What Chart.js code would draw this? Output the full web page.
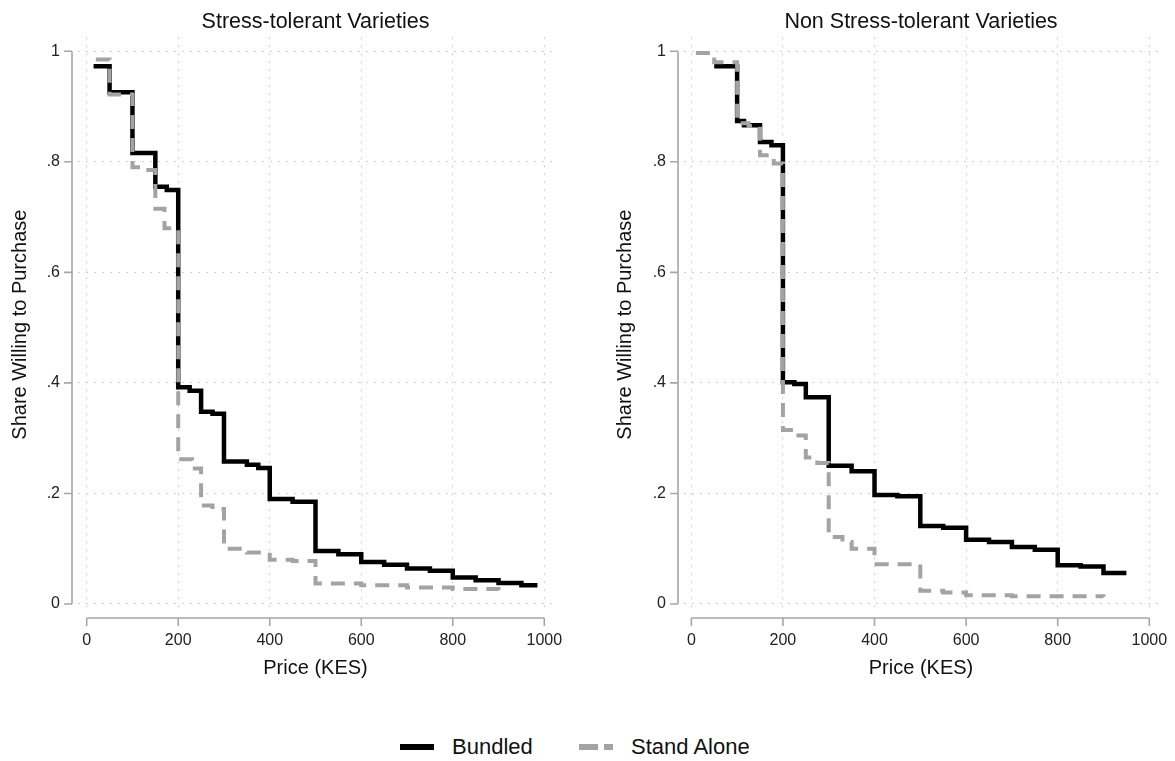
<!DOCTYPE html>
<html>
<head>
<meta charset="utf-8">
<script src="https://cdn.jsdelivr.net/npm/chart.js@4.4.1/dist/chart.umd.min.js"></script>
<style>
  html, body { margin: 0; padding: 0; background: #fff; }
  body { width: 1175px; height: 761px; position: relative; overflow: hidden;
         font-family: "Liberation Sans", Arial, sans-serif; color: #111; }
  canvas { position: absolute; top: 0; }
  #stChart { left: 0; }
  #nsChart { left: 600px; }
  .legend { position: absolute; top: 733px; height: 28px; display: flex; align-items: center; font-size: 22px; }
  .legend__text { margin-left: 18px; }
</style>
</head>
<body>
<canvas id="stChart" width="575" height="700"></canvas>
<canvas id="nsChart" width="575" height="700"></canvas>

<div class="legend" style="left:400px">
  <svg width="34" height="10"><line x1="0" y1="5" x2="34" y2="5" stroke="#000" stroke-width="6"/></svg>
  <span class="legend__text">Bundled</span>
</div>
<div class="legend" style="left:579px">
  <svg width="34" height="10"><line x1="0" y1="5" x2="34" y2="5" stroke="#a3a3a3" stroke-width="6" stroke-dasharray="19 6"/></svg>
  <span class="legend__text">Stand Alone</span>
</div>

<script>
/* =========================
   Data
========================= */
const xTicks = [0, 200, 400, 600, 800, 1000];
const yTicks = [0, 0.2, 0.4, 0.6, 0.8, 1];

// Stress-tolerant
const stPriceBundled = [15, 50, 100, 150, 175, 200, 225, 250, 275, 300, 350, 375, 400, 450, 500, 550, 600, 650, 700, 750, 800, 850, 900, 950, 985];
const stShareBundled = [0.973, 0.926, 0.816, 0.755, 0.749, 0.392, 0.386, 0.348, 0.344, 0.258, 0.252, 0.246, 0.190, 0.185, 0.096, 0.090, 0.076, 0.071, 0.064, 0.060, 0.048, 0.043, 0.038, 0.034, 0.034];
const stPriceAlone = [20, 50, 100, 125, 150, 170, 200, 230, 250, 275, 300, 350, 400, 450, 500, 600, 700, 800, 900];
const stShareAlone = [0.985, 0.922, 0.790, 0.785, 0.715, 0.680, 0.262, 0.245, 0.178, 0.172, 0.100, 0.093, 0.080, 0.078, 0.037, 0.034, 0.030, 0.027, 0.025];

// Non stress-tolerant
const nsPriceBundled = [50, 100, 115, 150, 175, 200, 225, 250, 300, 350, 400, 450, 500, 550, 600, 650, 700, 750, 800, 850, 900, 950];
const nsShareBundled = [0.973, 0.874, 0.866, 0.836, 0.830, 0.401, 0.398, 0.374, 0.250, 0.240, 0.197, 0.195, 0.141, 0.138, 0.116, 0.112, 0.103, 0.098, 0.070, 0.068, 0.056, 0.056];
const nsPriceAlone = [10, 50, 100, 125, 150, 180, 200, 225, 250, 275, 300, 330, 350, 400, 500, 550, 600, 700, 900];
const nsShareAlone = [0.997, 0.980, 0.870, 0.865, 0.812, 0.797, 0.315, 0.305, 0.265, 0.255, 0.121, 0.112, 0.100, 0.072, 0.024, 0.021, 0.016, 0.014, 0.013];

/* =========================
   Helpers
========================= */
Chart.defaults.font.family = '"Liberation Sans", Arial, sans-serif';
Chart.defaults.color = "#111";

const GRID = "#cfcfcf";
const AXIS = "#a6a6a6";

function toPoints(xs, ys) {
  return xs.map((x, i) => ({ x, y: ys[i] }));
}

function fmtShare(v) {
  if (v === 0 || v === 1) return String(v);
  return String(+v.toFixed(1)).replace("0.", ".");
}

// Stata-style axes: detached from the plot region, only over the tick range
const stataAxes = {
  id: "stataAxes",
  afterDraw(chart) {
    const { ctx, chartArea, scales: { x, y } } = chart;
    const ax = chartArea.left - 6;
    const ay = chartArea.bottom + 6;
    ctx.save();
    ctx.strokeStyle = AXIS;
    ctx.lineWidth = 1.6;
    ctx.beginPath();
    ctx.moveTo(ax, y.getPixelForValue(yTicks[0]));
    ctx.lineTo(ax, y.getPixelForValue(yTicks[yTicks.length - 1]));
    yTicks.forEach(t => {
      const py = y.getPixelForValue(t);
      ctx.moveTo(ax, py);
      ctx.lineTo(ax - 8, py);
    });
    ctx.moveTo(x.getPixelForValue(xTicks[0]), ay);
    ctx.lineTo(x.getPixelForValue(xTicks[xTicks.length - 1]), ay);
    xTicks.forEach(t => {
      const px = x.getPixelForValue(t);
      ctx.moveTo(px, ay);
      ctx.lineTo(px, ay + 8);
    });
    ctx.stroke();
    ctx.restore();
  }
};

function buildPanel(canvasId, title, bundled, alone, opts) {
  return new Chart(document.getElementById(canvasId), {
    type: "scatter",
    data: {
      datasets: [
        {
          label: "Stand Alone",
          data: alone,
          showLine: true,
          stepped: "before",
          borderColor: "#a3a3a3",
          borderWidth: 4,
          borderDash: [14, 9],
          borderCapStyle: "butt",
          borderJoinStyle: "miter",
          pointRadius: 0,
          order: 0
        },
        {
          label: "Bundled",
          data: bundled,
          showLine: true,
          stepped: "before",
          borderColor: "#000",
          borderWidth: 4.5,
          borderCapStyle: "butt",
          borderJoinStyle: "miter",
          pointRadius: 0,
          order: 1
        }
      ]
    },
    options: {
      responsive: false,
      animation: false,
      devicePixelRatio: 1,
      layout: { padding: { left: 0, right: opts.padRight, top: 0, bottom: 0 } },
      plugins: {
        legend: { display: false },
        tooltip: { enabled: false },
        title: {
          display: true,
          text: title,
          fullSize: false,
          color: "#111",
          font: { size: 21.5, weight: "normal" },
          padding: { top: 9, bottom: 2.5 }
        }
      },
      scales: {
        x: {
          type: "linear",
          min: opts.xMin,
          max: opts.xMax,
          afterBuildTicks: s => { s.ticks = xTicks.map(v => ({ value: v })); },
          afterFit: s => { s.height = 88; s.paddingLeft = 0; s.paddingRight = 0; },
          ticks: { padding: 19, autoSkip: false, maxRotation: 0, font: { size: 16 }, color: "#222", callback: v => String(v) },
          grid: { color: GRID, lineWidth: 1, drawTicks: false, borderDash: [2, 6] },
          border: { display: false, dash: [2, 6] },
          title: { display: true, text: "Price (KES)", font: { size: 20 }, color: "#111", padding: { top: 0, bottom: 20 } }
        },
        y: {
          min: -0.0145,
          max: 1.0253,
          afterBuildTicks: s => { s.ticks = yTicks.map(v => ({ value: v })); },
          afterFit: s => { s.width = opts.yWidth; s.paddingTop = 0; s.paddingBottom = 0; },
          ticks: { padding: 18, font: { size: 16 }, color: "#222", callback: v => fmtShare(v) },
          grid: { color: GRID, lineWidth: 1, drawTicks: false, borderDash: [2, 6] },
          border: { display: false, dash: [2, 6] },
          title: { display: true, text: "Share Willing to Purchase", font: { size: 20 }, color: "#111", padding: { top: opts.yTitlePad, bottom: 0 } }
        }
      }
    },
    plugins: [stataAxes]
  });
}

/* =========================
   Panels
========================= */
buildPanel("stChart", "Stress-tolerant Varieties",
  toPoints(stPriceBundled, stShareBundled), toPoints(stPriceAlone, stShareAlone),
  { padRight: 22, yWidth: 78, yTitlePad: 8, xMin: -19, xMax: 1019 });

buildPanel("nsChart", "Non Stress-tolerant Varieties",
  toPoints(nsPriceBundled, nsShareBundled), toPoints(nsPriceAlone, nsShareAlone),
  { padRight: 17, yWidth: 84, yTitlePad: 13.5, xMin: -16, xMax: 1019 });
</script>
</body>
</html>
